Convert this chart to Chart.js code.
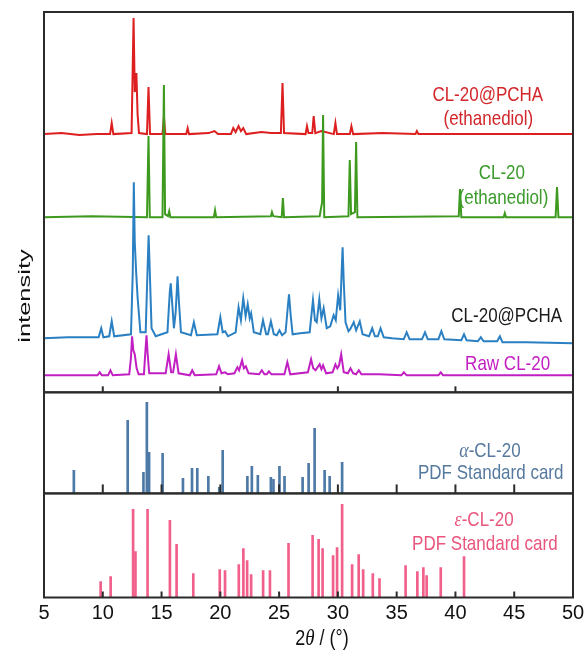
<!DOCTYPE html>
<html>
<head>
<meta charset="utf-8">
<script src="https://cdn.jsdelivr.net/npm/chart.js@4.4.1/dist/chart.umd.min.js"></script>
<style>
  html, body { margin: 0; padding: 0; background: #fff; }
</style>
</head>
<body>
<canvas id="xrd" width="585" height="650"></canvas>
<script>
// x range of the pattern, 2theta in degrees
const thetaMin = 5;
const thetaMax = 50;
const thetaStep = 5;

// measured patterns: [2theta, intensity (a.u., offset as plotted)]
const redTrace = [[5,258],[6.5,259],[8,257],[9.5,258],[10.62,258],[10.76,269],[10.9,258],[12.45,259],[12.62,374],[12.72,300],[12.86,319],[12.96,278],[13.08,259],[13.76,258],[13.89,305],[14.02,258],[15.08,258],[15.2,275],[15.32,258],[17.1,258],[17.22,264],[17.34,258],[19.0,259],[19.5,261],[19.8,258],[20.9,258],[21.1,264],[21.3,260],[21.55,266],[21.75,261],[21.95,264],[22.2,258],[23.5,260],[24.3,259],[25.15,259],[25.29,309],[25.42,259],[27.25,258],[27.37,266],[27.5,259],[27.82,259],[27.94,276],[28.08,259],[28.6,261],[29.65,258],[29.79,269],[29.92,258],[31.02,258],[31.15,266],[31.3,258],[33.8,259],[36.6,258],[36.72,261],[36.85,258],[43,258],[50,258]];

const greenTrace = [[5,175],[9,176],[13.76,175],[13.89,256],[14.0,175],[15.08,175],[15.2,307],[15.3,178],[15.55,176],[15.65,181],[15.75,175],[19.45,175],[19.55,182],[19.65,175],[24.3,176],[24.39,180],[24.5,176],[25.22,175],[25.32,194],[25.42,175],[28.45,176],[28.55,183],[28.66,190],[28.74,277],[28.84,175],[30.9,176],[31.01,232],[31.12,178],[31.45,180],[31.55,250],[31.66,175],[40.28,176],[40.39,203],[40.5,175],[44.1,175],[44.2,179],[44.3,175],[48.52,175],[48.64,205],[48.76,175],[50,175]];

const blueTrace = [[5,54],[7,55],[9.65,55],[9.87,64],[10.05,55],[10.55,56],[10.76,71],[10.97,56],[12.4,58],[12.55,120],[12.64,210],[12.72,150],[12.84,120],[12.96,95],[13.2,60],[13.65,60],[13.8,120],[13.9,157],[14.0,120],[14.15,64],[14.5,56],[15.5,60],[15.7,100],[15.78,109],[15.9,90],[16.05,64],[16.2,80],[16.36,116],[16.48,90],[16.65,60],[17.5,57],[17.75,70],[18.0,57],[19.75,58],[20.0,75],[20.2,60],[20.4,61],[20.65,56],[21.3,60],[21.55,85],[21.75,72],[21.95,94],[22.15,76],[22.33,88],[22.5,74],[22.62,79],[22.85,60],[23.4,58],[23.63,72],[23.9,58],[24.05,58],[24.3,71],[24.55,58],[24.8,57],[25.03,62],[25.25,57],[25.55,60],[25.7,80],[25.84,98],[26.0,75],[26.15,58],[26.8,59],[27.6,60],[27.88,92],[28.05,72],[28.2,70],[28.42,93],[28.6,74],[28.79,84],[29.05,64],[29.35,66],[29.64,77],[29.82,72],[30.02,97],[30.2,82],[30.32,120],[30.4,145],[30.5,110],[30.65,70],[30.9,61],[31.05,63],[31.35,70],[31.55,62],[31.86,71],[32.1,58],[32.65,56],[32.92,64],[33.15,56],[33.4,56],[33.63,64],[33.9,55],[34.6,54],[35.6,53],[35.85,60],[36.1,53],[37.15,53],[37.41,60],[37.65,53],[38.55,53],[38.8,61],[39.05,53],[40.5,52],[40.73,58],[40.95,52],[41.9,51],[42.16,55],[42.4,51],[43.55,51],[43.78,56],[44.0,50],[46,50],[50,49]];

const magentaTrace = [[5,17],[9.55,17],[9.74,20],[9.92,17],[10.45,17],[10.65,22],[10.85,17],[12.25,18],[12.4,35],[12.49,56],[12.6,42],[12.72,38],[12.88,24],[13.05,18],[13.5,18],[13.62,40],[13.72,57],[13.82,38],[13.95,19],[15.35,19],[15.6,38],[15.82,20],[15.98,20],[16.22,38],[16.45,19],[17.4,17],[17.61,22],[17.82,17],[19.65,18],[19.89,26],[20.1,19],[20.4,20],[20.65,18],[21.2,19],[21.45,25],[21.6,22],[21.85,32],[22.0,24],[22.17,26],[22.4,19],[23.3,18],[23.53,22],[23.75,18],[23.95,18],[24.13,21],[24.35,18],[25.45,18],[25.7,30],[25.95,18],[27.45,20],[27.72,33],[27.9,24],[28.1,22],[28.45,28],[28.6,23],[28.74,27],[29.0,19],[29.55,20],[29.79,28],[29.95,24],[30.1,27],[30.28,38],[30.5,20],[30.85,19],[31.07,24],[31.3,19],[31.55,18],[31.78,22],[32.0,18],[33.5,18],[35.4,17],[35.61,20],[35.85,17],[38.55,17],[38.75,20],[38.95,17],[50,17]];

// PDF standard cards (stick patterns)
const alphaTheta = [7.54, 12.12, 13.46, 13.75, 13.94, 15.09, 16.82, 17.59, 18.04, 18.98, 19.91, 20.2, 22.3, 22.68, 23.19, 24.3, 24.52, 25.03, 25.46, 27.0, 27.51, 28.02, 28.87, 29.3, 30.36];
const alphaInt   = [23, 73, 21, 91, 41, 40, 15, 25, 25, 17, 6, 43, 17, 27, 18, 16, 14, 27, 17, 16, 30, 65, 23, 17, 31];

const epsTheta = [9.82, 10.67, 12.58, 12.78, 13.81, 15.71, 16.28, 17.7, 19.95, 20.4, 21.57, 21.96, 22.28, 22.62, 23.64, 24.22, 25.8, 27.85, 28.36, 28.7, 29.59, 29.93, 30.36, 31.21, 31.77, 32.15, 32.97, 33.54, 35.76, 36.76, 37.27, 37.55, 38.75, 40.73];
const epsInt   = [16, 21, 88, 46, 88, 77, 53, 24, 28, 27, 33, 49, 37, 23, 27, 27, 54, 62, 58, 49, 42, 50, 93, 33, 43, 28, 24, 19, 32, 26, 30, 22, 30, 41];

const toPoints = arr => arr.map(p => ({x: p[0], y: p[1]}));
const toSticks = (xs, ys) => xs.map((x, i) => ({x: x, y: ys[i]}));

const sans = '"Liberation Sans", Arial, sans-serif';
const serif = '"Liberation Serif", "Times New Roman", serif';
const textScaleY = 1.2;

// panel frames and inner tick marks
const panels = [
  {id: 'yTop', tickStep: 10, tickLen: 6},
  {id: 'yMid', tickStep: 5, tickLen: 9},
  {id: 'yBot', tickStep: 5, tickLen: 6}
];

// annotation labels, anchored in data coordinates of each panel
const notes = [
  {axis: 'yTop', x: 42.75, y: 297, color: '#d3262b', runs: [['CL-20@PCHA', 'n']]},
  {axis: 'yTop', x: 42.8, y: 273, color: '#d3262b', runs: [['(ethanediol)', 'n']]},
  {axis: 'yTop', x: 43.95, y: 219, color: '#3a9b2a', runs: [['CL-20', 'n']]},
  {axis: 'yTop', x: 44.08, y: 194, color: '#3a9b2a', runs: [['(ethanediol)', 'n']]},
  {axis: 'yTop', x: 44.36, y: 76, color: '#1a1a1a', runs: [['CL-20@PCHA', 'n']]},
  {axis: 'yTop', x: 44.44, y: 28, color: '#c41dc4', runs: [['Raw CL-20', 'n']]},
  {axis: 'yMid', x: 42.93, y: 42, color: '#56799f', runs: [['\u03b1', 'i'], ['-CL-20', 'n']]},
  {axis: 'yMid', x: 43.0, y: 20, color: '#56799f', runs: [['PDF Standard card', 'n']]},
  {axis: 'yBot', x: 42.44, y: 77, color: '#e9557c', runs: [['\u03b5', 'i'], ['-CL-20', 'n']]},
  {axis: 'yBot', x: 42.5, y: 53, color: '#e9557c', runs: [['PDF Standard card', 'n']]}
];

function fontFor(run, size) {
  return run[1] === 'i' ? 'italic ' + (size + 1) + 'px ' + serif : size + 'px ' + sans;
}

function drawRuns(ctx, runs, cx, cy, size, color) {
  ctx.save();
  ctx.translate(cx, cy);
  ctx.scale(1, textScaleY);
  ctx.fillStyle = color;
  ctx.textBaseline = 'middle';
  ctx.textAlign = 'left';
  let total = 0;
  const widths = runs.map(r => {
    ctx.font = fontFor(r, size);
    const w = ctx.measureText(r[0]).width;
    total += w;
    return w;
  });
  let x = -total / 2;
  runs.forEach((r, i) => {
    ctx.font = fontFor(r, size);
    ctx.fillText(r[0], x, 0);
    x += widths[i];
  });
  ctx.restore();
}

const panelFrames = {
  id: 'panelFrames',
  afterDatasetsDraw(chart) {
    const {ctx, chartArea, scales} = chart;
    const xs = scales.x;
    ctx.save();
    ctx.strokeStyle = '#2b2b2b';
    ctx.lineWidth = 2;
    panels.forEach(p => {
      const s = scales[p.id];
      ctx.strokeRect(chartArea.left, s.top, chartArea.right - chartArea.left, s.bottom - s.top);
      xs.ticks.forEach(t => {
        if (t.value <= xs.min || t.value >= xs.max) return;
        if (t.value % p.tickStep) return;
        const px = xs.getPixelForValue(t.value);
        ctx.beginPath();
        ctx.moveTo(px, s.bottom);
        ctx.lineTo(px, s.bottom - p.tickLen);
        ctx.stroke();
      });
    });
    ctx.restore();
  },
  afterDraw(chart) {
    const {ctx, scales} = chart;
    notes.forEach(n => {
      drawRuns(ctx, n.runs, scales.x.getPixelForValue(n.x), scales[n.axis].getPixelForValue(n.y), 17, n.color);
    });
    // x axis title
    drawRuns(ctx, [['2', 'n'], ['\u03b8', 'i'], [' / (\u00b0)', 'n']], 322, 639, 18, '#111');
    // y axis title, stretched along the reading direction
    ctx.save();
    ctx.translate(30, 296);
    ctx.rotate(-Math.PI / 2);
    ctx.scale(1.5, 1);
    ctx.font = '17px ' + sans;
    ctx.fillStyle = '#111';
    ctx.textAlign = 'center';
    ctx.textBaseline = 'alphabetic';
    ctx.fillText('intensity', 0, 0);
    ctx.restore();
  }
};

const traceStyle = (data, color) => ({
  type: 'line', data: toPoints(data), yAxisID: 'yTop',
  borderColor: color, borderWidth: 2, pointRadius: 0, tension: 0, fill: false
});

new Chart(document.getElementById('xrd'), {
  type: 'line',
  data: {
    datasets: [
      traceStyle(magentaTrace, '#c21fc2'),
      traceStyle(blueTrace, '#2a80c2'),
      traceStyle(greenTrace, '#3d9a1f'),
      traceStyle(redTrace, '#dd1f1f'),
      {type: 'bar', data: toSticks(alphaTheta, alphaInt), yAxisID: 'yMid',
       backgroundColor: '#4d79a6', barThickness: 2, grouped: false},
      {type: 'bar', data: toSticks(epsTheta, epsInt), yAxisID: 'yBot',
       backgroundColor: '#f0608a', barThickness: 2, grouped: false}
    ]
  },
  options: {
    responsive: false,
    animation: false,
    events: [],
    layout: {padding: {left: 44, right: 12, top: 12, bottom: 21.5}},
    plugins: {legend: {display: false}, tooltip: {enabled: false}},
    scales: {
      x: {
        type: 'linear', min: thetaMin, max: thetaMax, offset: false,
        grid: {display: false, drawTicks: false, offset: false},
        border: {display: false},
        ticks: {stepSize: thetaStep, padding: 3.5, color: '#111',
                font: {family: '"Liberation Sans Narrow", "Liberation Sans", Arial, sans-serif', size: 20}},
        afterFit(scale) {
          // the edge labels may overhang the plot, as in the figure
          scale.paddingLeft = 0;
          scale.paddingRight = 0;
        }
      },
      yTop: {type: 'linear', min: 0, max: 380, display: false, stack: 'panels', stackWeight: 380, weight: 3},
      yMid: {type: 'linear', min: 0, max: 101, display: false, stack: 'panels', stackWeight: 101, weight: 2},
      yBot: {type: 'linear', min: 0, max: 104, display: false, stack: 'panels', stackWeight: 104, weight: 1}
    }
  },
  plugins: [panelFrames]
});
</script>
</body>
</html>
